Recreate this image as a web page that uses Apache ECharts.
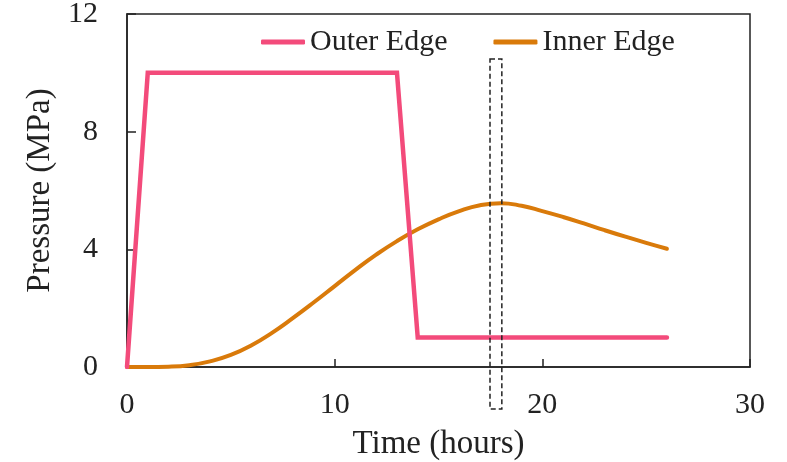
<!DOCTYPE html>
<html>
<head>
<meta charset="utf-8">
<script src="https://cdn.jsdelivr.net/npm/echarts@6/dist/echarts.min.js"></script>
<style>
html,body{margin:0;padding:0;background:#fff;}
#chart{width:787px;height:462px;}
</style>
</head>
<body>
<div id="chart"></div>
<script>
// Data
var outerHours = [0, 1, 13, 14, 26];
var outerPressure = [0, 10, 10, 1, 1];
var innerHours = [0, 1, 2, 3, 4, 5, 6, 7, 8, 9, 10, 11, 12, 13, 14, 15, 16, 17, 18, 19, 20, 21, 22, 23, 24, 25, 26];
var innerPressure = [0, 0, 0.01, 0.06, 0.19, 0.41, 0.74, 1.17, 1.67, 2.2, 2.75, 3.3, 3.82, 4.28, 4.68, 5.02, 5.3, 5.5, 5.57, 5.48, 5.3, 5.1, 4.88, 4.65, 4.43, 4.22, 4.02];
var highlightX = [17.48, 18.05];
var highlightY = [-1.43, 10.47];
var seriesNames = ['Outer Edge', 'Inner Edge'];
var xTicks = [0, 10, 20, 30];
var yTicks = [0, 4, 8, 12];

function pairs(xs, ys) { return xs.map(function (x, i) { return [x, ys[i]]; }); }

var FONT = '"Liberation Serif", "DejaVu Serif", serif';
var INK = '#222';

var chart = echarts.init(document.getElementById('chart'), null, { renderer: 'canvas' });
chart.setOption({
  backgroundColor: '#fff',
  animation: false,
  textStyle: { fontFamily: FONT, color: INK },
  grid: { left: 127, right: 37, top: 14, bottom: 95, outerBoundsMode: 'none', containLabel: false, show: true, borderColor: INK, borderWidth: 1.5, backgroundColor: 'transparent' },
  legend: {
    data: seriesNames,
    left: 256, top: 22,
    itemWidth: 44, itemHeight: 5, itemGap: 46,
    icon: 'roundRect',
    textStyle: { fontFamily: FONT, fontSize: 30, color: INK }
  },
  xAxis: {
    type: 'value', min: xTicks[0], max: xTicks[xTicks.length - 1], interval: 10,
    name: 'Time (hours)', nameLocation: 'middle', nameGap: 61,
    nameTextStyle: { fontFamily: FONT, fontSize: 33, color: INK },
    axisLine: { show: true, lineStyle: { color: INK, width: 1.5 } },
    axisTick: { show: true, inside: true, length: 8, lineStyle: { color: INK, width: 1.5 } },
    axisLabel: { fontFamily: FONT, fontSize: 30, color: INK, margin: 23 },
    splitLine: { show: false }
  },
  yAxis: {
    type: 'value', min: yTicks[0], max: yTicks[yTicks.length - 1], interval: 4,
    name: 'Pressure (MPa)', nameLocation: 'middle', nameGap: 70,
    nameTextStyle: { fontFamily: FONT, fontSize: 33, color: INK },
    axisLine: { show: true, lineStyle: { color: INK, width: 1.5 } },
    axisTick: { show: true, inside: true, length: 9, lineStyle: { color: INK, width: 1.5 } },
    axisLabel: { fontFamily: FONT, fontSize: 30, color: INK, margin: 29 },
    splitLine: { show: false }
  },
  series: [
    {
      name: seriesNames[0], type: 'line', data: pairs(outerHours, outerPressure),
      symbol: 'none', z: 4,
      itemStyle: { color: '#F34B7B' },
      lineStyle: { color: '#F34B7B', width: 4.5, cap: 'round', join: 'miter' }
    },
    {
      name: seriesNames[1], type: 'line', data: pairs(innerHours, innerPressure),
      symbol: 'none', smooth: 0.5, z: 3,
      itemStyle: { color: '#D97A0A' },
      lineStyle: { color: '#D97A0A', width: 4, cap: 'round' }
    },
    {
      name: 'highlight', type: 'custom', clip: false, z: 5, silent: true,
      data: [[highlightX[0], highlightX[1], highlightY[0], highlightY[1]]],
      renderItem: function (params, api) {
        var p0 = api.coord([api.value(0), api.value(3)]);
        var p1 = api.coord([api.value(1), api.value(2)]);
        return {
          type: 'rect',
          shape: { x: p0[0], y: p0[1], width: p1[0] - p0[0], height: p1[1] - p0[1] },
          style: { fill: 'none', stroke: INK, lineWidth: 1.5, lineDash: [5, 3] }
        };
      }
    }
  ]
});
</script>
</body>
</html>
